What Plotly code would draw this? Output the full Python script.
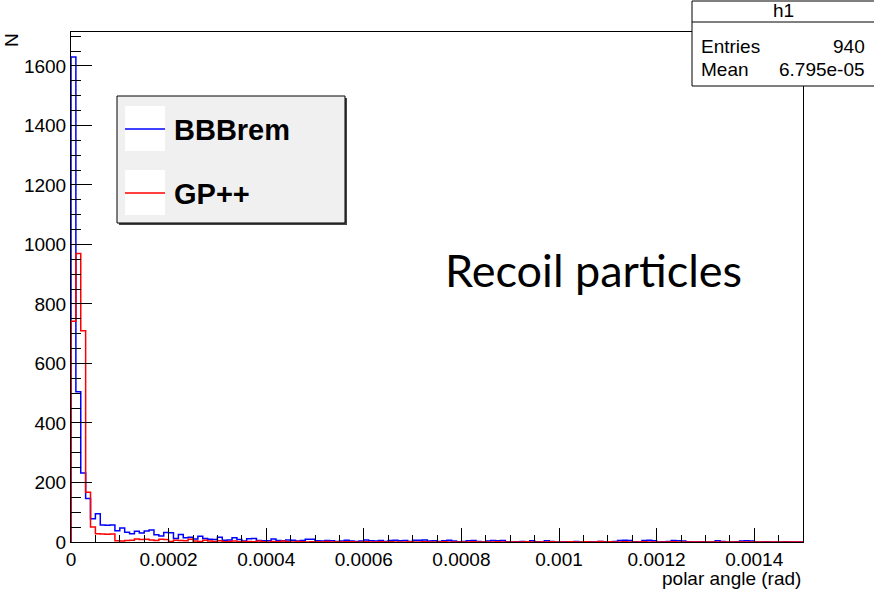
import numpy as np
import plotly.graph_objects as go

# Histogram binning of the polar angle (rad)
angle_low, angle_high = 0.0, 0.0015
n_bins = 150

bbbrem_counts = [
    1630, 505, 232, 146, 78, 95, 57, 56, 57, 38,
    47, 33, 28, 36, 30, 37, 40, 24, 20, 32,
    31, 12, 25, 14, 16, 10, 19, 12, 9, 8,
    16, 6, 7, 14, 8, 3, 11, 12, 5, 4,
    4, 10, 5, 4, 7, 6, 3, 5, 9, 9,
    4, 3, 5, 4, 2, 3, 6, 3, 2, 3,
    7, 4, 3, 5, 2, 5, 6, 4, 5, 2,
    6, 6, 7, 3, 4, 2, 4, 6, 3, 1,
    2, 4, 5, 2, 0, 3, 5, 4, 5, 1,
    0, 1, 2, 0, 4, 1, 0, 4, 2, 0,
    0, 1, 0, 2, 0, 0, 1, 0, 2, 1,
    0, 2, 5, 6, 5, 1, 0, 5, 6, 4,
    0, 1, 2, 5, 4, 3, 1, 0, 0, 1,
    0, 0, 4, 2, 0, 0, 1, 3, 4, 3,
    0, 0, 1, 0, 0, 0, 1, 0, 0, 0,
]

gppp_counts = [
    742, 970, 710, 167, 50, 28, 27, 26, 27, 4,
    3, 5, 6, 10, 8, 9, 7, 5, 9, 8,
    2, 6, 5, 4, 9, 3, 2, 6, 3, 2,
    4, 1, 2, 3, 1, 2, 2, 1, 3, 1,
    0, 2, 1, 3, 1, 0, 2, 1, 0, 1,
    1, 0, 2, 0, 1, 0, 1, 1, 0, 0,
    1, 0, 0, 1, 0, 1, 0, 0, 0, 1,
    0, 0, 1, 0, 0, 0, 1, 0, 0, 0,
    0, 0, 1, 0, 0, 0, 0, 1, 0, 0,
    0, 0, 0, 1, 0, 0, 0, 0, 1, 0,
    0, 0, 1, 0, 0, 1, 0, 0, 2, 0,
    1, 0, 0, 1, 0, 0, 0, 1, 0, 0,
    0, 0, 0, 1, 0, 0, 0, 0, 0, 0,
    0, 0, 0, 0, 0, 0, 0, 0, 0, 0,
    0, 0, 0, 0, 0, 0, 0, 0, 0, 0,
]

series_names = ["BBBrem", "GP++"]
series_colors = ["#0000ff", "#ff0000"]

x_tick_values = [0, 0.0002, 0.0004, 0.0006, 0.0008, 0.001, 0.0012, 0.0014]
x_tick_text = ["0", "0.0002", "0.0004", "0.0006", "0.0008", "0.001", "0.0012", "0.0014"]
y_tick_values = [0, 200, 400, 600, 800, 1000, 1200, 1400, 1600]
y_tick_text = ["0", "200", "400", "600", "800", "1000", "1200", "1400", "1600"]

stats_title = "h1"
stats_rows = [("Entries", "940"), ("Mean", "6.795e-05")]
x_title = "polar angle (rad)"
y_title = "N"
note_text = "Recoil particles"

# ---------------------------------------------------------------------------
W, H = 874, 590
L, R, T, B = 71, 803, 32, 542  # frame edges in pixels
SANS = "Liberation Sans, Arial, sans-serif"


def px(x):
    return (x - L) / (R - L)


def py(y):
    return (B - y) / (B - T)


edges = np.linspace(angle_low, angle_high, n_bins + 1)

fig = go.Figure()
for counts, name, color in zip([bbbrem_counts, gppp_counts], series_names, series_colors):
    xs = np.concatenate([[edges[0]], edges])
    ys = np.concatenate([[0], counts, [counts[-1]]])
    fig.add_trace(go.Scatter(
        x=xs, y=ys, mode="lines", name=name,
        line=dict(color=color, width=1.5, shape="hv"),
        showlegend=False, hoverinfo="skip",
    ))

axis_font = dict(family=SANS, size=19, color="black")

fig.update_xaxes(
    range=[angle_low, angle_high],
    tickmode="array", tickvals=x_tick_values, ticktext=x_tick_text,
    ticks="inside", ticklen=14, tickwidth=1, tickcolor="black",
    minor=dict(tickmode="linear", tick0=0, dtick=0.00005, ticks="inside",
               ticklen=7, tickwidth=1, tickcolor="black"),
    showline=True, mirror=True, linecolor="black", linewidth=1,
    showgrid=False, zeroline=False, tickfont=axis_font,
)
fig.update_yaxes(
    range=[0, 1714],
    tickmode="array", tickvals=y_tick_values, ticktext=y_tick_text,
    ticks="inside", ticklen=21, tickwidth=1, tickcolor="black",
    minor=dict(tickmode="linear", tick0=0, dtick=50, ticks="inside",
               ticklen=10, tickwidth=1, tickcolor="black"),
    showline=True, mirror=True, linecolor="black", linewidth=1,
    showgrid=False, zeroline=False, tickfont=axis_font,
)

shapes = []
annotations = []

# Legend box with shadow
shapes.append(dict(type="rect", xref="paper", yref="paper",
                   x0=px(119), x1=px(347), y0=py(98), y1=py(225),
                   line=dict(width=0), fillcolor="#444444", layer="above"))
shapes.append(dict(type="rect", xref="paper", yref="paper",
                   x0=px(117), x1=px(345), y0=py(96), y1=py(223),
                   line=dict(color="black", width=1), fillcolor="#f0f0f0", layer="above"))
for i, (name, color) in enumerate(zip(series_names, series_colors)):
    top = 106 + i * 64
    mid = top + 23
    shapes.append(dict(type="rect", xref="paper", yref="paper",
                       x0=px(125), x1=px(165), y0=py(top), y1=py(top + 45),
                       line=dict(width=0), fillcolor="white", layer="above"))
    shapes.append(dict(type="line", xref="paper", yref="paper",
                       x0=px(125), x1=px(165), y0=py(mid), y1=py(mid),
                       line=dict(color=color, width=1.5), layer="above"))
    annotations.append(dict(xref="paper", yref="paper", x=px(172), y=py(mid + 1),
                            xanchor="left", yanchor="middle", showarrow=False,
                            text=f"<b>{name}</b>",
                            font=dict(family=SANS, size=29, color="black")))

# Statistics box
sx0, sx1 = 692, 880
sy0, sy1, sep = 1, 86, 22
shapes.append(dict(type="rect", xref="paper", yref="paper",
                   x0=px(sx0), x1=px(sx1), y0=py(sy0), y1=py(sy1),
                   line=dict(color="black", width=1), fillcolor="white", layer="above"))
shapes.append(dict(type="line", xref="paper", yref="paper",
                   x0=px(sx0), x1=px(sx1), y0=py(sep), y1=py(sep),
                   line=dict(color="black", width=1), layer="above"))
stats_font = dict(family=SANS, size=19, color="black")
annotations.append(dict(xref="paper", yref="paper", x=px(783), y=py(11),
                        xanchor="center", yanchor="middle", showarrow=False,
                        text=stats_title, font=stats_font))
for j, (k, v) in enumerate(stats_rows):
    yc = 46 + j * 24
    annotations.append(dict(xref="paper", yref="paper", x=px(699), y=py(yc),
                            xanchor="left", yanchor="middle", showarrow=False,
                            text=k, font=stats_font))
    annotations.append(dict(xref="paper", yref="paper", x=px(867), y=py(yc),
                            xanchor="right", yanchor="middle", showarrow=False,
                            text=v, font=stats_font))

# Axis titles
annotations.append(dict(xref="paper", yref="paper", x=1.0, y=py(578),
                        xanchor="right", yanchor="middle", showarrow=False,
                        text=x_title, font=dict(family=SANS, size=19, color="black")))
annotations.append(dict(xref="paper", yref="paper", x=px(11), y=py(40),
                        xanchor="center", yanchor="middle", showarrow=False,
                        textangle=-90, text=y_title,
                        font=dict(family=SANS, size=19, color="black")))

# Text note inside the frame
annotations.append(dict(xref="paper", yref="paper", x=px(593), y=py(270),
                        xanchor="center", yanchor="middle", showarrow=False,
                        text=note_text,
                        font=dict(family="Lato, sans-serif", size=45, color="black")))

fig.update_layout(
    width=W, height=H, autosize=False,
    margin=dict(l=L, r=W - R, t=T, b=H - B, pad=0),
    paper_bgcolor="white", plot_bgcolor="white",
    shapes=shapes, annotations=annotations,
    showlegend=False,
)

fig.write_html("out.html")
